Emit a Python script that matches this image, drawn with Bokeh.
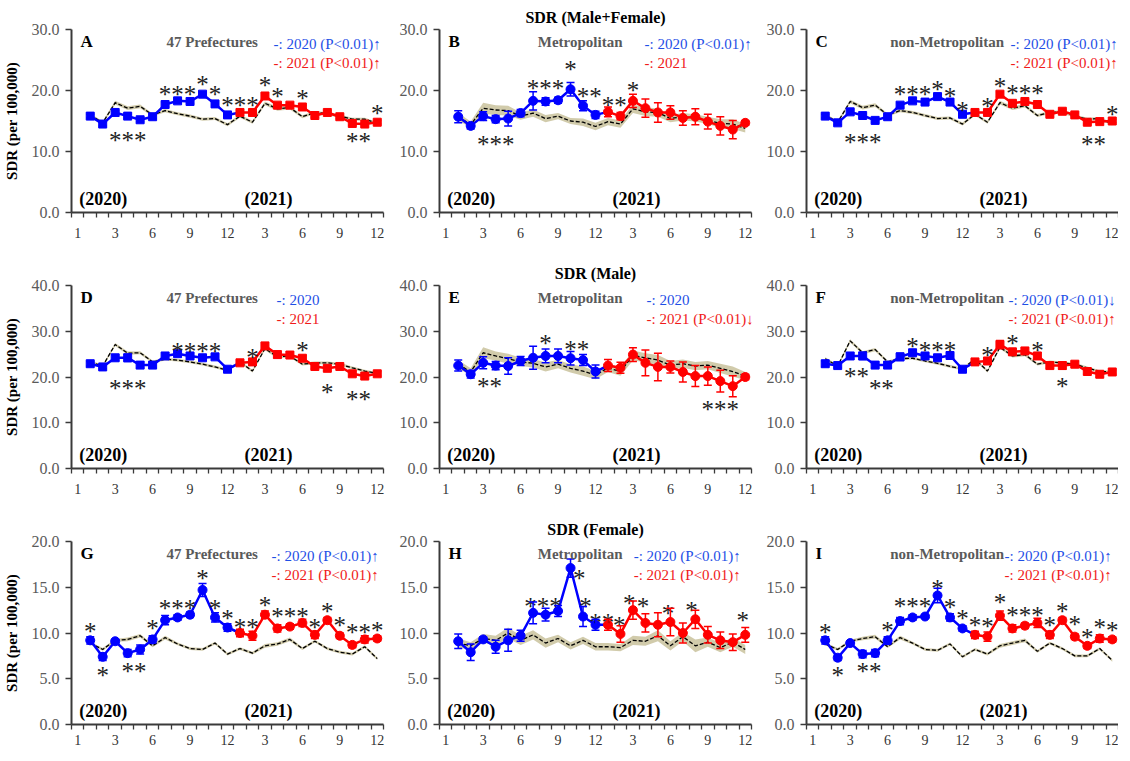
from bokeh.plotting import figure
from bokeh.layouts import gridplot
from bokeh.models import (Range1d, FixedTicker, Label, ColumnDataSource, Whisker,
                          TeeHead, PrintfTickFormatter)
from bokeh.core.properties import value
from bokeh.embed import file_html
from bokeh.resources import INLINE

FONT = "Liberation Serif"
AXFONT = "'Liberation Serif', 'Times New Roman', serif"

# ---------------- axis categories ----------------
# 25 category slots: slot 1 carries the "1" label only, 2020 months sit in slots 2..13,
# 2021 months in slots 14..25
XTICK_POS = [1, 4, 7, 10, 13, 16, 19, 22, 25]
XTICK_LABELS = ["1", "3", "6", "9", "12", "3", "6", "9", "12"]
X2020 = [2, 3, 4, 5, 6, 7, 8, 9, 10, 11, 12, 13]
X2021 = [14, 15, 16, 17, 18, 19, 20, 21, 22, 23, 24, 25]
XALL = X2020 + X2021

ROW_TITLES = ["SDR (Male+Female)", "SDR (Male)", "SDR (Female)"]
Y_LABEL = "SDR (per 100,000)"

# ---------------- data ----------------
# A: Male+Female, 47 prefectures
A_base = [16.0, 14.7, 18.0, 17.1, 17.4, 16.0, 16.7, 16.2, 15.8, 15.3, 15.4, 14.4,
          15.8, 14.8, 17.9, 17.0, 17.2, 15.7, 16.4, 16.2, 15.8, 15.3, 15.3, 14.6]
A_band = [0.25, 0.25, 0.3, 0.3, 0.3, 0.25, 0.25, 0.25, 0.25, 0.25, 0.25, 0.25,
          0.25, 0.25, 0.3, 0.3, 0.3, 0.25, 0.25, 0.25, 0.25, 0.25, 0.25, 0.25]
A_2020 = [15.8, 14.5, 16.4, 15.8, 15.2, 15.7, 17.7, 18.3, 18.2, 19.4, 17.8, 16.0]
A_2020_err = [0.3, 0.3, 0.3, 0.3, 0.3, 0.3, 0.4, 0.3, 0.3, 0.4, 0.3, 0.3]
A_2021 = [16.4, 16.4, 19.1, 17.6, 17.6, 17.3, 15.9, 16.4, 15.7, 14.6, 14.5, 14.8]
A_2021_err = [0.3, 0.3, 0.4, 0.3, 0.3, 0.3, 0.3, 0.3, 0.3, 0.3, 0.3, 0.3]
A_star_x = [4, 5, 6, 8, 9, 10, 11, 12, 13, 14, 15, 16, 17, 19, 23, 24, 25]
A_star_y = [12.7, 12.7, 12.7, 20.2, 20.2, 20.2, 21.8, 20.2, 18.4, 18.4, 18.4, 21.7, 19.8,
            19.5, 12.5, 12.5, 17.1]

# B: Male+Female, Metropolitan
B_base = [15.7, 14.4, 17.1, 16.8, 16.7, 15.8, 16.3, 15.4, 15.8, 15.0, 14.8, 14.1,
          14.9, 14.5, 17.0, 16.5, 16.4, 15.4, 15.7, 15.5, 15.1, 14.6, 14.5, 13.8]
B_band = [0.6, 0.5, 0.9, 0.8, 0.8, 0.6, 0.6, 0.6, 0.5, 0.5, 0.6, 0.6,
          0.6, 0.6, 0.7, 0.7, 0.7, 0.6, 0.6, 0.6, 0.6, 0.7, 0.8, 0.7]
B_2020 = [15.7, 14.2, 15.8, 15.3, 15.4, 16.3, 18.3, 18.2, 18.4, 20.2, 17.5, 16.0]
B_2020_err = [1.0, 0.5, 0.7, 0.6, 1.2, 0.6, 1.5, 0.6, 0.5, 1.1, 0.8, 0.6]
B_2021 = [16.5, 15.8, 18.3, 17.1, 16.4, 16.4, 15.5, 15.7, 14.9, 14.2, 13.6, 14.7]
B_2021_err = [0.8, 0.6, 1.1, 1.5, 1.6, 1.1, 1.2, 1.3, 1.2, 1.5, 1.5, 0.4]
B_star_x = [4, 5, 6, 8, 9, 10, 11, 12, 13, 14, 15, 16]
B_star_y = [12.0, 12.0, 12.0, 21.2, 21.2, 21.2, 24.2, 19.8, 19.8, 18.4, 18.4, 20.9]

# C: Male+Female, non-Metropolitan
C_base = [16.0, 14.8, 18.2, 17.2, 17.6, 16.0, 16.7, 16.4, 15.9, 15.4, 15.5, 14.5,
          16.1, 14.8, 18.0, 17.1, 17.5, 15.9, 16.4, 16.5, 15.8, 15.3, 15.4, 14.5]
C_band = [0.25, 0.25, 0.3, 0.3, 0.3, 0.25, 0.25, 0.25, 0.25, 0.25, 0.25, 0.25,
          0.25, 0.25, 0.3, 0.3, 0.3, 0.25, 0.25, 0.25, 0.25, 0.25, 0.25, 0.25]
C_2020 = [15.8, 14.7, 16.5, 15.9, 15.1, 15.7, 17.6, 18.3, 18.1, 19.0, 18.1, 16.1]
C_2020_err = [0.3, 0.3, 0.4, 0.3, 0.3, 0.3, 0.4, 0.3, 0.3, 0.4, 0.3, 0.3]
C_2021 = [16.4, 16.4, 19.4, 17.9, 18.2, 17.7, 16.1, 16.6, 16.0, 14.8, 14.9, 15.0]
C_2021_err = [0.3, 0.3, 0.4, 0.3, 0.3, 0.3, 0.3, 0.3, 0.3, 0.3, 0.3, 0.3]
C_star_x = [4, 5, 6, 8, 9, 10, 11, 12, 13, 15, 16, 17, 18, 19, 23, 24, 25]
C_star_y = [12.3, 12.3, 12.3, 20.2, 20.2, 20.2, 21.0, 19.9, 17.6, 18.2, 21.4, 20.3, 20.3,
            20.3, 11.9, 11.9, 16.9]

# D: Male, 47 prefectures
D_base = [23.3, 22.4, 27.1, 25.2, 25.3, 23.3, 23.9, 23.7, 23.3, 22.8, 22.2, 21.5,
          23.3, 21.3, 26.2, 24.4, 24.6, 22.8, 23.1, 23.1, 22.8, 22.0, 21.3, 20.8]
D_band = [0.3, 0.3, 0.35, 0.35, 0.35, 0.3, 0.3, 0.3, 0.3, 0.3, 0.3, 0.3,
          0.3, 0.3, 0.35, 0.35, 0.35, 0.3, 0.3, 0.3, 0.3, 0.3, 0.3, 0.3]
D_2020 = [22.9, 22.2, 24.2, 24.2, 22.6, 22.6, 24.6, 25.1, 24.6, 24.2, 24.4, 21.7]
D_2020_err = [0.5, 0.4, 0.6, 0.8, 0.6, 0.6, 0.7, 0.5, 0.5, 0.5, 0.5, 0.5]
D_2021 = [23.1, 23.3, 26.8, 24.9, 24.8, 24.1, 22.3, 21.9, 22.3, 20.7, 20.2, 20.7]
D_2021_err = [0.5, 0.6, 0.7, 0.7, 0.7, 0.6, 0.5, 0.6, 0.5, 0.5, 0.6, 0.5]
D_star_x = [4, 5, 6, 9, 10, 11, 12, 15, 19, 21, 23, 24]
D_star_y = [18.6, 18.6, 18.6, 26.6, 26.6, 26.6, 26.6, 25.3, 26.9, 17.7, 16.1, 16.1]

# E: Male, Metropolitan
E_base = [22.8, 21.1, 25.3, 24.6, 24.0, 23.3, 23.0, 22.2, 22.8, 21.9, 21.3, 20.4,
          22.0, 21.2, 24.7, 24.2, 23.7, 22.6, 22.9, 22.4, 22.6, 21.9, 21.2, 20.2]
E_band = [0.9, 0.8, 1.2, 1.0, 1.1, 0.9, 0.9, 1.0, 0.9, 0.9, 1.0, 0.9,
          0.9, 0.9, 1.1, 1.0, 1.1, 0.9, 0.9, 0.9, 0.9, 1.0, 1.1, 0.9]
E_2020 = [22.5, 20.6, 23.1, 22.5, 22.4, 23.5, 24.2, 24.6, 24.6, 24.1, 23.7, 21.2]
E_2020_err = [1.2, 0.8, 1.3, 0.9, 1.8, 1.0, 2.5, 1.5, 1.5, 1.5, 1.2, 1.4]
E_2021 = [22.5, 22.0, 24.9, 23.1, 22.2, 22.2, 21.1, 20.2, 20.2, 19.1, 18.0, 20.0]
E_2021_err = [1.3, 1.2, 1.5, 2.8, 3.0, 1.3, 2.2, 2.3, 2.0, 2.4, 2.3, 0.6]
E_star_x = [4, 5, 9, 11, 12, 22, 23, 24]
E_star_y = [19.1, 19.1, 28.4, 27.1, 27.1, 13.9, 13.9, 13.9]

# F: Male, non-Metropolitan
F_base = [24.0, 22.4, 27.9, 25.3, 26.0, 23.3, 24.0, 24.1, 23.5, 23.0, 22.3, 21.8,
          23.9, 21.3, 26.5, 24.6, 24.9, 22.8, 23.3, 23.1, 22.8, 22.0, 21.2, 21.1]
F_band = [0.3, 0.3, 0.35, 0.35, 0.35, 0.3, 0.3, 0.3, 0.3, 0.3, 0.3, 0.3,
          0.3, 0.3, 0.35, 0.35, 0.35, 0.3, 0.3, 0.3, 0.3, 0.3, 0.3, 0.3]
F_2020 = [22.9, 22.5, 24.6, 24.6, 22.6, 22.6, 24.4, 25.3, 24.6, 24.2, 24.7, 21.7]
F_2020_err = [0.6, 0.5, 0.7, 0.8, 0.6, 0.7, 0.8, 0.6, 0.5, 0.6, 0.6, 0.5]
F_2021 = [23.3, 23.5, 27.1, 25.5, 25.7, 24.6, 22.5, 22.5, 22.8, 21.2, 20.6, 21.1]
F_2021_err = [0.6, 0.6, 0.9, 0.7, 0.7, 0.7, 0.6, 0.8, 0.6, 0.6, 0.6, 0.5]
F_star_x = [4, 5, 6, 7, 9, 10, 11, 12, 15, 17, 19, 21]
F_star_y = [21.3, 21.3, 18.6, 18.6, 27.7, 26.8, 26.8, 26.8, 25.7, 28.4, 26.8, 19.1]

# G: Female, 47 prefectures
G_base = [8.9, 8.2, 9.2, 9.3, 9.7, 8.6, 9.5, 8.8, 8.3, 8.2, 8.9, 7.7,
          8.3, 7.8, 8.6, 8.8, 9.3, 8.3, 9.1, 8.3, 7.9, 7.7, 8.5, 7.2]
G_band = [0.15, 0.15, 0.15, 0.2, 0.2, 0.15, 0.2, 0.15, 0.15, 0.15, 0.15, 0.15,
          0.15, 0.15, 0.2, 0.2, 0.2, 0.15, 0.15, 0.15, 0.15, 0.15, 0.15, 0.15]
G_2020 = [9.2, 7.4, 9.1, 7.8, 8.2, 9.3, 11.4, 11.7, 12.0, 14.7, 11.7, 10.6]
G_2020_err = [0.4, 0.4, 0.2, 0.4, 0.5, 0.4, 0.5, 0.3, 0.3, 0.7, 0.5, 0.4]
G_2021 = [10.0, 9.7, 12.0, 10.5, 10.7, 11.1, 9.8, 11.4, 9.7, 8.7, 9.3, 9.4]
G_2021_err = [0.4, 0.5, 0.4, 0.4, 0.3, 0.4, 0.4, 0.3, 0.3, 0.3, 0.4, 0.3]
G_star_x = [2, 3, 5, 6, 7, 8, 9, 10, 11, 12, 13, 14, 15, 16, 17, 18, 19, 20, 21, 22, 23, 24, 25]
G_star_y = [10.7, 5.9, 6.3, 6.3, 11.0, 13.2, 13.2, 13.2, 16.5, 13.2, 12.1, 11.2, 11.2, 13.5,
            12.3, 12.3, 12.3, 11.1, 12.9, 11.4, 10.6, 10.6, 10.8]

# H: Female, Metropolitan
H_base = [8.9, 8.6, 9.4, 9.2, 10.0, 9.2, 9.8, 8.9, 9.4, 8.6, 9.2, 8.5,
          8.5, 8.4, 9.2, 9.1, 9.7, 8.6, 9.6, 8.6, 9.0, 8.4, 9.0, 8.2]
H_band = [0.5, 0.4, 0.5, 0.5, 0.6, 0.5, 0.5, 0.5, 0.4, 0.4, 0.4, 0.4,
          0.4, 0.4, 0.5, 0.5, 0.6, 0.5, 0.5, 0.7, 0.5, 0.5, 0.5, 0.5]
H_2020 = [9.1, 7.9, 9.3, 8.5, 9.2, 9.7, 12.2, 12.0, 12.4, 17.1, 11.8, 10.9]
H_2020_err = [0.8, 0.9, 0.3, 0.7, 1.2, 0.6, 1.2, 0.7, 0.6, 1.0, 1.1, 0.6]
H_2021 = [10.9, 9.9, 12.5, 11.1, 10.9, 11.2, 10.0, 11.5, 9.8, 9.2, 9.0, 9.8]
H_2021_err = [0.6, 0.9, 1.0, 1.0, 1.3, 1.5, 1.1, 1.0, 0.9, 0.9, 0.9, 0.8]
H_star_x = [7.8, 8.8, 9.8, 11.7, 12.2, 13.0, 14.0, 14.9, 15.7, 16.8, 18.8, 20.7, 24.8]
H_star_y = [13.4, 13.4, 13.4, 16.5, 13.4, 11.7, 11.7, 11.4, 13.8, 13.4, 12.7, 13.0, 11.9]

# I: Female, non-Metropolitan
I_base = [8.8, 8.2, 9.1, 9.4, 9.6, 8.5, 9.5, 8.9, 8.2, 8.1, 8.8, 7.4,
          8.2, 7.7, 8.6, 8.9, 9.2, 8.0, 8.9, 8.3, 7.5, 7.5, 8.3, 7.0]
I_band = [0.15, 0.15, 0.15, 0.2, 0.2, 0.15, 0.2, 0.15, 0.15, 0.15, 0.15, 0.15,
          0.15, 0.15, 0.2, 0.2, 0.2, 0.15, 0.15, 0.15, 0.15, 0.15, 0.15, 0.15]
I_2020 = [9.2, 7.3, 8.9, 7.7, 7.8, 9.2, 11.3, 11.7, 11.8, 14.1, 11.7, 10.5]
I_2020_err = [0.4, 0.3, 0.2, 0.4, 0.4, 0.4, 0.4, 0.3, 0.2, 0.8, 0.4, 0.3]
I_2021 = [9.8, 9.6, 11.9, 10.5, 10.8, 11.1, 9.8, 11.4, 9.6, 8.6, 9.4, 9.3]
I_2021_err = [0.4, 0.5, 0.5, 0.4, 0.3, 0.5, 0.4, 0.3, 0.3, 0.3, 0.4, 0.3]
I_star_x = [2, 3, 5, 6, 7, 8, 9, 10, 11, 12, 13, 14, 15, 16, 17, 18, 19, 20, 21, 22, 23, 24, 25]
I_star_y = [10.6, 5.9, 6.3, 6.3, 10.8, 13.4, 13.4, 13.4, 15.4, 13.3, 12.1, 11.4, 11.3, 13.9,
            12.5, 12.5, 12.5, 11.4, 12.9, 11.5, 10.1, 11.1, 10.8]

UP = "\u2191"
DN = "\u2193"

PANELS = [
    dict(letter="A", sub="47 Prefectures", leg1="-: 2020 (P<0.01)" + UP, leg2="-: 2021 (P<0.01)" + UP,
         ymax=30, yticks=[0, 10, 20, 30], marker="square",
         base=A_base, band=A_band, v20=A_2020, e20=A_2020_err, v21=A_2021, e21=A_2021_err,
         sx=A_star_x, sy=A_star_y, legx=204),
    dict(letter="B", sub="Metropolitan", leg1="-: 2020 (P<0.01)" + UP, leg2="-: 2021",
         ymax=30, yticks=[0, 10, 20, 30], marker="circle",
         base=B_base, band=B_band, v20=B_2020, e20=B_2020_err, v21=B_2021, e21=B_2021_err,
         sx=B_star_x, sy=B_star_y, legx=207),
    dict(letter="C", sub="non-Metropolitan", leg1="-: 2020 (P<0.01)" + UP, leg2="-: 2021 (P<0.01)" + UP,
         ymax=30, yticks=[0, 10, 20, 30], marker="square",
         base=C_base, band=C_band, v20=C_2020, e20=C_2020_err, v21=C_2021, e21=C_2021_err,
         sx=C_star_x, sy=C_star_y, legx=206),
    dict(letter="D", sub="47 Prefectures", leg1="-: 2020", leg2="-: 2021",
         ymax=40, yticks=[0, 10, 20, 30, 40], marker="square",
         base=D_base, band=D_band, v20=D_2020, e20=D_2020_err, v21=D_2021, e21=D_2021_err,
         sx=D_star_x, sy=D_star_y, legx=207),
    dict(letter="E", sub="Metropolitan", leg1="-: 2020", leg2="-: 2021 (P<0.01)" + DN,
         ymax=40, yticks=[0, 10, 20, 30, 40], marker="circle",
         base=E_base, band=E_band, v20=E_2020, e20=E_2020_err, v21=E_2021, e21=E_2021_err,
         sx=E_star_x, sy=E_star_y, legx=209),
    dict(letter="F", sub="non-Metropolitan", leg1="-: 2020 (P<0.01)" + DN, leg2="-: 2021 (P<0.01)" + UP,
         ymax=40, yticks=[0, 10, 20, 30, 40], marker="square",
         base=F_base, band=F_band, v20=F_2020, e20=F_2020_err, v21=F_2021, e21=F_2021_err,
         sx=F_star_x, sy=F_star_y, legx=204),
    dict(letter="G", sub="47 Prefectures", leg1="-: 2020 (P<0.01)" + UP, leg2="-: 2021 (P<0.01)" + UP,
         ymax=20, yticks=[0, 5, 10, 15, 20], marker="circle",
         base=G_base, band=G_band, v20=G_2020, e20=G_2020_err, v21=G_2021, e21=G_2021_err,
         sx=G_star_x, sy=G_star_y, legx=202),
    dict(letter="H", sub="Metropolitan", leg1="-: 2020 (P<0.01)" + UP, leg2="-: 2021 (P<0.01)" + UP,
         ymax=20, yticks=[0, 5, 10, 15, 20], marker="circle",
         base=H_base, band=H_band, v20=H_2020, e20=H_2020_err, v21=H_2021, e21=H_2021_err,
         sx=H_star_x, sy=H_star_y, legx=196),
    dict(letter="I", sub="non-Metropolitan", leg1="-: 2020 (P<0.01)" + UP, leg2="-: 2021 (P<0.01)" + UP,
         ymax=20, yticks=[0, 5, 10, 15, 20], marker="circle",
         base=I_base, band=I_band, v20=I_2020, e20=I_2020_err, v21=I_2021, e21=I_2021_err,
         sx=I_star_x, sy=I_star_y, legx=200),
]

# ---------------- layout ----------------
FW, FH = 312, 183
TOP = 29
LEFTS = [67, 46, 45]
RIGHTS = [10, 10, 0]
BOTTOMS = [44, 44, 21]
XSTANDOFF = [10, 10, 5]
CAT_PX = 12.6  # reference pixel width of one slot

BLUE, RED = "#0000ff", "#ff0000"
BLUE_T, RED_T = "#1f4fe6", "#f01a1a"
AXIS_C = "#3a3a3a"


def fx(px):
    return 0.5 + px / CAT_PX


def fy(py, ymax):
    return ymax * (1 - py / FH)


def make_panel(P, row, col):
    ymax = P["ymax"]
    p = figure(frame_width=FW, frame_height=FH,
               x_range=Range1d(0.5, 25.5), y_range=Range1d(0, ymax),
               min_border_left=LEFTS[col], min_border_right=RIGHTS[col],
               min_border_top=TOP, min_border_bottom=BOTTOMS[row],
               output_backend="svg", toolbar_location=None, tools="")
    p.outline_line_color = None
    p.xgrid.visible = False
    p.ygrid.visible = False
    p.background_fill_color = "white"
    p.border_fill_color = "white"

    if col == 1:
        p.title.text = ROW_TITLES[row]
        p.title.align = "center"
        p.title.offset = -16
        p.title.text_font = AXFONT
        p.title.text_font_size = "16px"
        p.title.text_font_style = "bold"
        p.title.text_color = "black"
        p.title.standoff = 7

    # x axis
    xa = p.xaxis[0]
    xa.ticker = FixedTicker(ticks=XTICK_POS, minor_ticks=[i + 0.5 for i in range(26)])
    xa.major_label_overrides = {t: lab for t, lab in zip(XTICK_POS, XTICK_LABELS)}
    xa.axis_line_color = AXIS_C
    xa.axis_line_width = 2
    xa.major_tick_out = 0
    xa.major_tick_in = 0
    xa.minor_tick_out = 5
    xa.minor_tick_in = 0
    xa.minor_tick_line_color = AXIS_C
    xa.minor_tick_line_width = 1.3
    xa.major_label_standoff = XSTANDOFF[row]
    xa.major_label_text_font = AXFONT
    xa.major_label_text_font_size = "14px"
    xa.major_label_text_color = "#333333"

    # y axis
    ya = p.yaxis[0]
    ya.ticker = FixedTicker(ticks=P["yticks"])
    ya.formatter = PrintfTickFormatter(format="%.1f")
    ya.axis_line_color = AXIS_C
    ya.axis_line_width = 2
    ya.major_tick_out = 6
    ya.major_tick_in = 0
    ya.major_tick_line_color = AXIS_C
    ya.major_tick_line_width = 1.3
    ya.minor_tick_line_color = None
    ya.major_label_standoff = 6
    ya.major_label_text_font = AXFONT
    ya.major_label_text_font_size = "16px"
    ya.major_label_text_color = "#5a5a5a"
    if col == 0:
        ya.axis_label = Y_LABEL
        ya.axis_label_text_font = AXFONT
        ya.axis_label_text_font_size = "15px"
        ya.axis_label_text_font_style = "bold"
        ya.axis_label_text_color = "black"
        ya.axis_label_standoff = 9

    # expected band + dashed expected line
    lo = [b - h for b, h in zip(P["base"], P["band"])]
    hi = [b + h for b, h in zip(P["base"], P["band"])]
    p.varea(x=XALL, y1=lo, y2=hi, fill_color="#c9c29c", fill_alpha=0.85)
    p.line(XALL, P["base"], line_color="black", line_width=1.3, line_dash="4 2")

    # error bars
    for xs, vs, es, c in ((X2020, P["v20"], P["e20"], BLUE), (X2021, P["v21"], P["e21"], RED)):
        src = ColumnDataSource(dict(x=xs, upper=[v + e for v, e in zip(vs, es)],
                                    lower=[v - e for v, e in zip(vs, es)]))
        w = Whisker(source=src, base="x", upper="upper", lower="lower",
                    line_color=c, line_width=1.5,
                    upper_head=TeeHead(size=8, line_color=c, line_width=1.5),
                    lower_head=TeeHead(size=8, line_color=c, line_width=1.5))
        w.level = "glyph"
        p.add_layout(w)

    # observed lines and markers
    p.line(X2020 + [X2021[0]], P["v20"] + [P["v21"][0]], line_color=BLUE, line_width=2.5)
    p.line(X2021, P["v21"], line_color=RED, line_width=2.5)
    msize = 8 if P["marker"] == "square" else 9
    p.scatter(X2020, P["v20"], marker=P["marker"], size=msize, color=BLUE)
    p.scatter(X2021, P["v21"], marker=P["marker"], size=msize, color=RED)

    # significance asterisks
    p.text(x=P["sx"], y=P["sy"], text=["*"] * len(P["sx"]),
           text_font=value(FONT), text_font_size=value("25px"), text_color="#222222",
           text_align="center", text_baseline="middle", y_offset=5)

    # in-panel texts
    def lab(x, y, text, size, color="black", bold=False, align="left"):
        p.add_layout(Label(x=x, y=y, text=text, text_font=FONT, text_font_size=size,
                           text_color=color, text_font_style="bold" if bold else "normal",
                           text_align=align, text_baseline="middle"))

    lab(fx(9), fy(12, ymax), P["letter"], "17px", bold=True)
    lab(fx(142), fy(12, ymax), P["sub"], "15px", color="#5a5a5a", bold=True, align="center")
    lab(fx(P["legx"]), fy(14, ymax), P["leg1"], "15px", color=BLUE_T)
    lab(fx(P["legx"]), fy(33, ymax), P["leg2"], "15px", color=RED_T)
    lab(fx(32), fy(FH - 14, ymax), "(2020)", "18px", bold=True, align="center")
    lab(fx(199), fy(FH - 14, ymax), "(2021)", "18px", bold=True, align="center")
    return p


figs = []
for r in range(3):
    figs.append([make_panel(PANELS[r * 3 + c], r, c) for c in range(3)])

grid = gridplot(figs, toolbar_location=None)

open("out.html", "w").write(file_html(grid, INLINE))
